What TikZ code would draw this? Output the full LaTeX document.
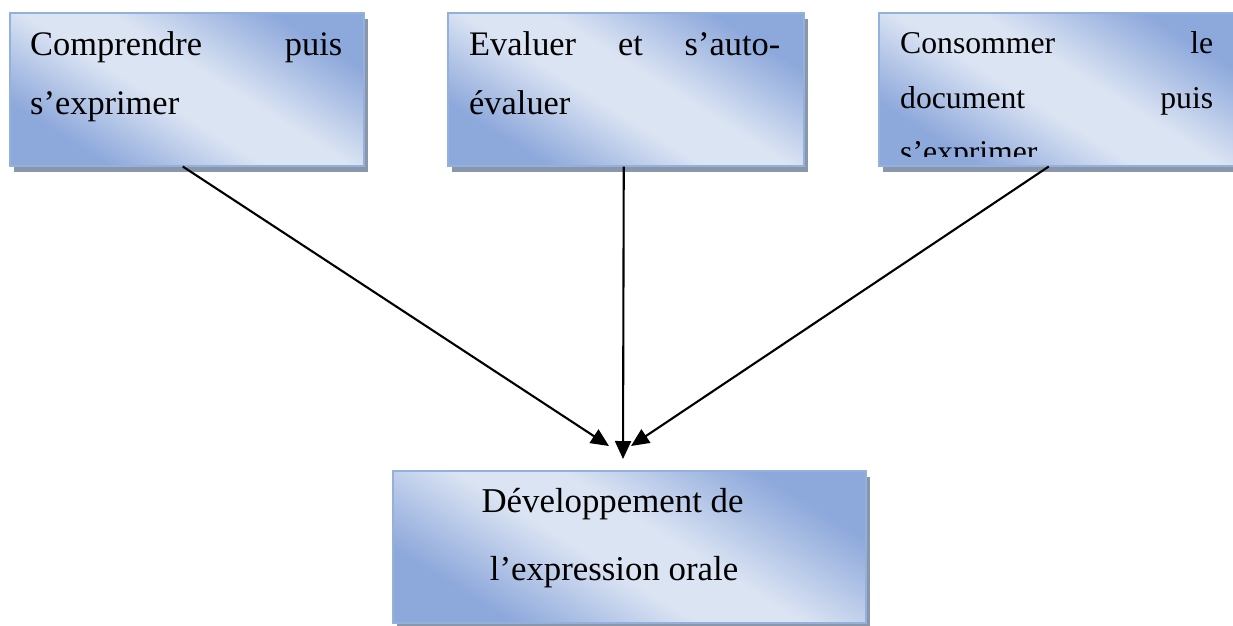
\documentclass[tikz,border=0pt]{standalone}
\usepackage{fontspec}
\setmainfont{Liberation Serif}
\usetikzlibrary{shadows,arrows.meta,calc}
\definecolor{gdark}{RGB}{141,168,219}
\definecolor{glight}{RGB}{219,228,243}
\definecolor{bordc}{RGB}{148,176,220}
\definecolor{shadc}{RGB}{138,150,170}
\pgfdeclarehorizontalshading{wordgrad}{100bp}{color(0bp)=(gdark); color(27bp)=(gdark); color(45bp)=(glight); color(55bp)=(glight); color(74bp)=(gdark); color(100bp)=(gdark)}
\tikzset{
  gbox/.style={rectangle, anchor=north west, inner sep=0pt, draw=bordc, line width=1.5pt,
    shading=wordgrad, shading angle=58,
    drop shadow={shadow xshift=4pt, shadow yshift=-6pt, fill=shadc, opacity=1}},
  lineA/.style={anchor=base west, inner sep=0pt, font=\fontsize{34.4}{40}\selectfont},
  lineB/.style={anchor=base west, inner sep=0pt, font=\fontsize{31.7}{38}\selectfont},
  lineC/.style={anchor=base, inner sep=0pt, font=\fontsize{34.8}{40}\selectfont},
  arr/.style={line width=2.1pt, draw=black, -{Triangle[length=18pt,width=16pt]}}
}
\begin{document}
\begin{tikzpicture}[x=1pt,y=-1pt]
\useasboundingbox (0,0) rectangle (1233,625);
% boxes
\node[gbox, minimum width=354pt, minimum height=153pt] (b1) at (9,12) {};
\node[gbox, minimum width=356pt, minimum height=153pt] (b2) at (447,12) {};
\node[gbox, minimum width=358pt, minimum height=153pt] (b3) at (878,12) {};
\node[gbox, minimum width=473pt, minimum height=152pt] (b4) at (392,470) {};
% texts box 1
\node[lineA] (t1a) at (30,55) {\makebox[312pt][s]{Comprendre puis}};
\node[lineA] (t1b) at (30,114) {s’exprimer};
% texts box 2
\node[lineA] (t2a) at (469,55) {\makebox[311pt][s]{Evaluer et s’auto-}};
\node[lineA] (t2b) at (469,114) {évaluer};
% texts box 3
\node[lineB] (t3a) at (900,53) {\makebox[313pt][s]{Consommer le}};
\node[lineB] (t3b) at (900,108) {\makebox[313pt][s]{document puis}};
\begin{scope}
  \clip (878,12) rectangle (1233,156);
  \node[lineB] (t3c) at (900,162) {s’exprimer};
\end{scope}
% text box 4
\node[lineC] (t4a) at (612.5,512) {Développement de};
\node[lineC] (t4b) at (614,580) {l’expression orale};
% arrow ends
\coordinate (tipL) at (609,446);
\coordinate (tipM) at (623,459);
\coordinate (tipR) at (631,446);
\draw[arr] ($(b1.south)+(-4,0)$) -- (tipL);
\draw[arr] ($(b2.south)+(-2,0)$) -- (tipM);
\draw[arr] ($(b3.south)+(-9,0)$) -- (tipR);
\end{tikzpicture}
\end{document}
